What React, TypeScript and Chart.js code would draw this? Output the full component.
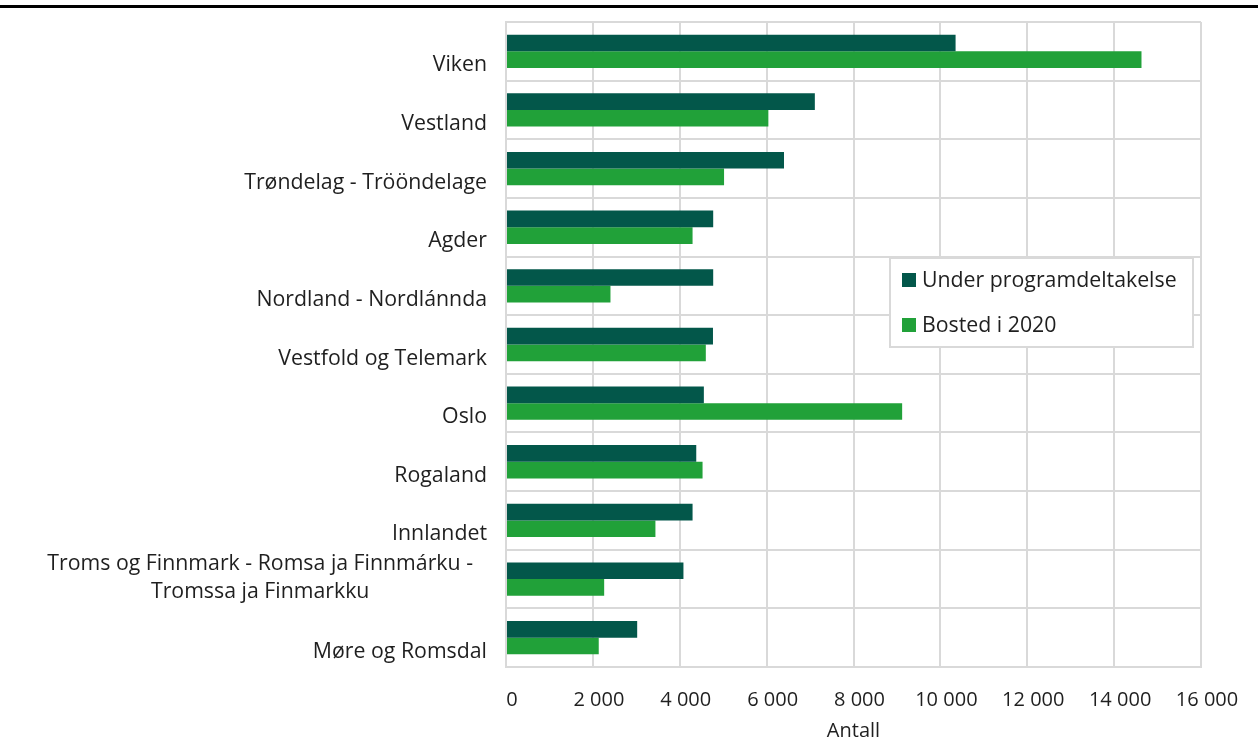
import { useEffect, useRef } from "react";
import { Chart, registerables } from "chart.js";

Chart.register(...registerables);

const categories: (string | string[])[] = [
  "Viken",
  "Vestland",
  "Trøndelag - Trööndelage",
  "Agder",
  "Nordland - Nordlánnda",
  "Vestfold og Telemark",
  "Oslo",
  "Rogaland",
  "Innlandet",
  ["Troms og Finnmark - Romsa ja Finnmárku -", "Tromssa ja Finmarkku"],
  "Møre og Romsdal",
];

const underProgram = [10350, 7110, 6400, 4770, 4770, 4765, 4555, 4380, 4295, 4085, 3020];
const bosted2020 = [14630, 6040, 5020, 4295, 2405, 4600, 9120, 4525, 3440, 2260, 2135];

const seriesLabels = ["Under programdeltakelse", "Bosted i 2020"];
const seriesColors = ["#03574a", "#21a139"];
const axisTitle = "Antall";

const FONT = "'Open Sans', sans-serif";
const LABEL_SIZE = 21.3;
const TICK_SIZE = 20;
const TEXT = "#1f1f1f";
const GRID = "#d9d9d9";

const fmt = (v: number) => String(v).replace(/\B(?=(\d{3})+(?!\d))/g, " ");

const decorPlugin = {
  id: "decor",
  afterDraw(chart: any) {
    const ctx = chart.ctx;
    const yScale = chart.scales.y;
    ctx.save();
    // top rule
    ctx.fillStyle = "#000";
    ctx.fillRect(0, 5, chart.width, 3);

    // category labels
    ctx.font = `${LABEL_SIZE}px ${FONT}`;
    ctx.fillStyle = TEXT;
    ctx.textBaseline = "middle";
    const rightX = 487;
    categories.forEach((lab, i) => {
      const yc = yScale.getPixelForTick(i);
      if (Array.isArray(lab)) {
        const widths = lab.map((l) => ctx.measureText(l).width);
        const maxW = Math.max(...widths);
        const cx = rightX - 14 - maxW / 2;
        ctx.textAlign = "center";
        const n = lab.length;
        lab.forEach((l, k) => {
          ctx.fillText(l, cx, yc - 1 + (k - (n - 1) / 2) * 28);
        });
      } else {
        ctx.textAlign = "right";
        ctx.fillText(lab, rightX, yc + 14);
      }
    });

    // legend box
    const bx = 890, by = 258, bw = 303, bh = 89;
    ctx.fillStyle = "#fff";
    ctx.fillRect(bx, by, bw, bh);
    ctx.strokeStyle = GRID;
    ctx.lineWidth = 2;
    ctx.strokeRect(bx, by, bw, bh);
    const rows = [280, 325];
    seriesLabels.forEach((l, i) => {
      ctx.fillStyle = seriesColors[i];
      ctx.fillRect(902, rows[i] - 7, 14, 14);
      ctx.fillStyle = TEXT;
      ctx.textAlign = "left";
      ctx.fillText(l, 922, rows[i] + 1);
    });
    ctx.restore();
  },
};

export default function App() {
  const ref = useRef<HTMLCanvasElement | null>(null);
  useEffect(() => {
    if (!ref.current) return;
    const chart = new Chart(ref.current, {
      type: "bar",
      data: {
        labels: categories as any,
        datasets: [
          {
            label: seriesLabels[0],
            data: underProgram,
            backgroundColor: seriesColors[0],
            categoryPercentage: 0.568,
            barPercentage: 1,
          },
          {
            label: seriesLabels[1],
            data: bosted2020,
            backgroundColor: seriesColors[1],
            categoryPercentage: 0.568,
            barPercentage: 1,
          },
        ],
      },
      options: {
        indexAxis: "y",
        responsive: false,
        animation: false,
        layout: { padding: { top: 22, right: 57, bottom: 0, left: 0 } },
        plugins: {
          legend: { display: false },
          tooltip: { enabled: false },
          title: { display: false },
        },
        scales: {
          y: {
            ticks: { display: false },
            grid: { color: GRID, lineWidth: 2, drawTicks: false },
            border: { display: true, color: GRID, width: 2 },
            afterFit: (s: any) => {
              s.width = 506;
            },
          },
          x: {
            min: 0,
            max: 16000,
            ticks: {
              stepSize: 2000,
              padding: 21,
              labelOffset: 6,
              color: TEXT,
              font: { family: FONT, size: TICK_SIZE },
              callback: (v: any) => fmt(Number(v)),
              maxRotation: 0,
            },
            grid: { color: GRID, lineWidth: 2, drawTicks: false },
            border: { display: true, color: GRID, width: 2 },
            title: {
              display: true,
              text: axisTitle,
              color: TEXT,
              font: { family: FONT, size: TICK_SIZE },
              padding: { top: 0, bottom: 4 },
            },
            afterFit: (s: any) => {
              s.height = 80;
            },
          },
        },
      },
      plugins: [decorPlugin],
    });
    return () => chart.destroy();
  }, []);
  return (
    <div style={{ position: "fixed", left: 0, top: 0, width: 1258, height: 747, background: "#fff" }}>
      <canvas ref={ref} width={1258} height={747} style={{ display: "block" }} />
    </div>
  );
}
